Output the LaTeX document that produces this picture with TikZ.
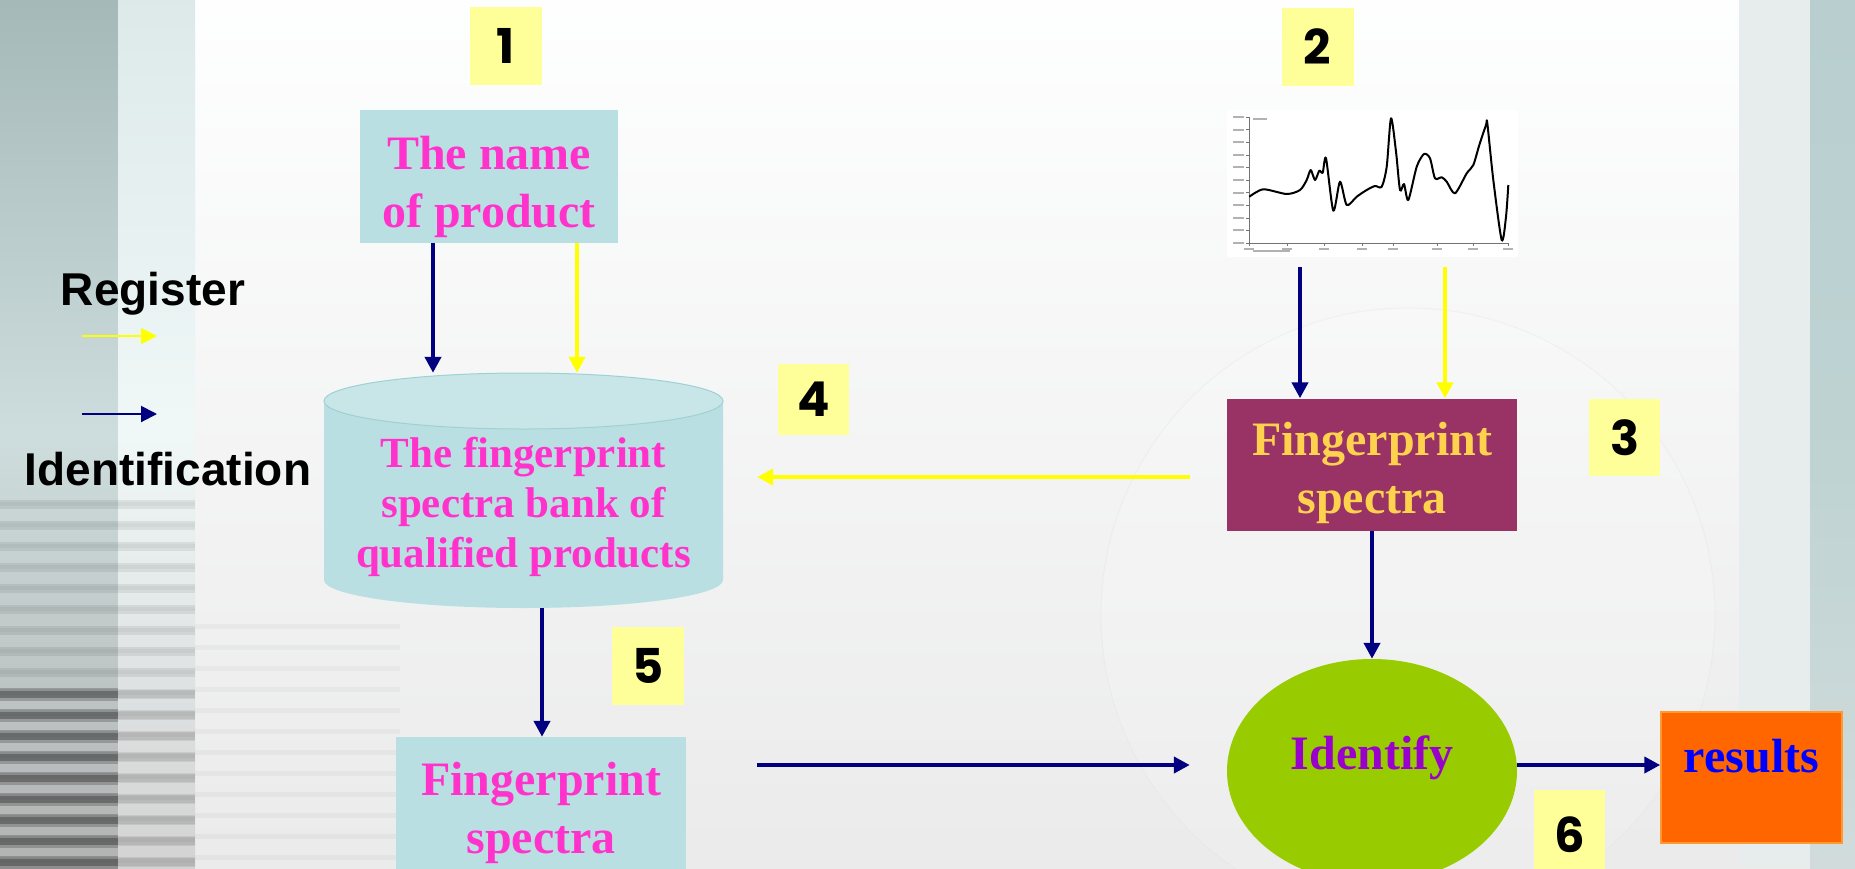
\documentclass[tikz,border=0pt]{standalone}
\usepackage{fontspec}
\setmainfont{Liberation Serif}
\newfontfamily\legfont{Liberation Sans}
\newfontfamily\numfont{Poppins}
\usetikzlibrary{arrows.meta,calc,shapes.geometric}
\definecolor{navyc}{HTML}{000080}
\definecolor{yelc}{HTML}{FFFF00}
\definecolor{numyellow}{HTML}{FFFF99}
\definecolor{boxcyan}{HTML}{BADFE2}
\definecolor{topcyan}{HTML}{C8E6E8}
\definecolor{pinktext}{HTML}{FF33CC}
\definecolor{maroonc}{HTML}{993366}
\definecolor{goldtext}{HTML}{FFD24D}
\definecolor{greenc}{HTML}{99CC00}
\definecolor{purplet}{HTML}{9900CC}
\definecolor{orangec}{HTML}{FF6600}
\definecolor{orangeb}{HTML}{FF9933}
\definecolor{bluet}{HTML}{0000FF}
\begin{document}
\begin{tikzpicture}[x=1pt,y=-1pt,
  navyarr/.style={draw=navyc, line width=4pt, -{Triangle[length=16pt,width=16pt]}},
  yelarr/.style={draw=yelc, line width=4pt, -{Triangle[length=16pt,width=16pt]}},
  legnavy/.style={draw=navyc, line width=2pt, -{Triangle[length=16pt,width=16pt]}},
  legyel/.style={draw=yelc, line width=2pt, -{Triangle[length=16pt,width=16pt]}},
  numbox/.style={fill=numyellow, minimum width=72pt, minimum height=78pt, inner sep=0pt,
     font=\numfont\bfseries\fontsize{48}{48}\selectfont},
  cyanfill/.style={fill=boxcyan, inner sep=0pt},
  serifbig/.style={font=\bfseries\fontsize{48}{58}\selectfont, align=center, inner sep=0pt},
  legtext/.style={font=\legfont\bfseries\fontsize{46}{46}\selectfont, text=black, inner sep=0pt}
]
\useasboundingbox (0,0) rectangle (1855,868);
\clip (0,0) rectangle (1855,868);
% ---------- background ----------
\shade[top color=white!92!teal!6, bottom color=black!8!white] (0,0) rectangle (1855,868);
\fill[white, opacity=0.15] (1408,615) circle[radius=307];
\draw[black!12, opacity=0.3, line width=1pt] (1408,615) circle[radius=307];
% left bands
\shade[top color=teal!28!gray!55!white, bottom color=gray!60!white, middle color=teal!14!white!85!gray]
  (0,0) rectangle (118,868);
\shade[top color=teal!10!white!92!gray, bottom color=gray!35!white, middle color=teal!6!white]
  (118,0) rectangle (195,868);
\foreach \yy in {500,521,...,868} {
  \fill[black, opacity=0.07] (0,\yy) rectangle (195,\yy+9);
  \fill[black, opacity=0.035] (0,\yy+2) rectangle (195,\yy+6);
}
\foreach \yy in {620,641,...,868} {
  \fill[black, opacity=0.03] (195,\yy+4) rectangle (400,\yy+9);
}
\foreach \yy in {690,711,...,868} {
  \fill[black!85, opacity=0.25] (0,\yy-2) rectangle (118,\yy+11);
  \fill[black!85, opacity=0.3] (0,\yy+1) rectangle (118,\yy+8);
  \fill[black!60, opacity=0.15] (118,\yy) rectangle (195,\yy+9);
}
% right bands
\fill[teal!5!white!90!gray] (1739,0) rectangle (1810,868);
\shade[top color=teal!22!white!80!gray, bottom color=teal!10!white!80!gray, middle color=gray!55!teal!35!white]
  (1810,0) rectangle (1855,868);
% ---------- legend ----------
\node[legtext, anchor=base] (reg) at (153,305) {Register};
\coordinate (ly1) at (82,336);
\coordinate (ly2) at (157,336);
\draw[legyel] (ly1) -- (ly2);
\coordinate (ln1) at (82,414);
\coordinate (ln2) at (157,414);
\draw[legnavy] (ln1) -- (ln2);
\node[legtext, anchor=base] (ident) at (168,485) {Identification};
% ---------- number boxes ----------
\node[numbox] (n1) at (505.5,46) {1};
\node[numbox] (n2) at (1317.5,46.5) {2};
\node[numbox, minimum width=71pt, minimum height=77pt] (n3) at (1624.5,437.5) {3};
\node[numbox, minimum width=71pt, minimum height=71pt] (n4) at (813.5,399.5) {4};
\node[numbox] (n5) at (648,666) {5};
\node[numbox, minimum width=71pt, minimum height=90pt] (n6) at (1569.5,835) {6};
% ---------- name box ----------
\node[cyanfill, minimum width=258pt, minimum height=133pt] (name) at (489,176.5) {};
\node[serifbig, text=pinktext] (namet) at (489,187) {The name\\of product};
% ---------- bank cylinder ----------
\node[minimum width=399pt, minimum height=235pt, inner sep=0pt] (bank) at (523.5,490.5) {};
\fill[boxcyan] (324,401) -- (324,580) arc[start angle=180, end angle=0, x radius=199.5, y radius=28]
  -- (723,401) arc[start angle=0, end angle=-180, x radius=199.5, y radius=28] -- cycle;
\fill[topcyan] (523.5,401) ellipse[x radius=199.5, y radius=28];
\draw[boxcyan!85!teal, line width=1pt] (523.5,401) ellipse[x radius=199.5, y radius=28];
\node[text=pinktext, font=\bfseries\fontsize{43}{50}\selectfont, align=center, inner sep=0pt]
  (banktext) at (523.5,507) {The fingerprint\\spectra bank of\\qualified products};
% ---------- spectrum picture ----------
\node[fill=white, minimum width=291pt, minimum height=147pt, inner sep=0pt] (spec) at (1372.5,183.5) {};
\draw[black!55, line width=0.8pt] (1249,117) -- (1249,243) -- (1508,243);
\foreach \k in {0,...,10} {
  \draw[black!55, line width=0.6pt] (1246,117+\k*12.6) -- (1249,117+\k*12.6);
  \fill[black!30] (1233,116+\k*12.6) rectangle (1244,118+\k*12.6);
}
\foreach \xx in {1249,1287,1324,1362,1393,1437,1473,1508} {
  \draw[black!55, line width=0.6pt] (\xx,243) -- (\xx,246);
  \fill[black!30] (\xx-5,248) rectangle (\xx+5,250);
}
\fill[black!30] (1253,250) rectangle (1290,252);
\fill[black!30] (1253,118) rectangle (1267,120);
\draw[black, line width=2pt, line join=round] plot[smooth, tension=0.45] coordinates {
 (1249.3,196.7) (1263.3,189.3) (1286.7,194) (1300,190) (1306.7,180) (1310.7,170) (1315,180)
 (1319.3,170.7) (1322.7,172.7) (1326,158.3) (1333.3,210.7) (1340,181.7) (1346.7,205)
 (1356.7,196.7) (1366.7,190) (1375,186) (1381.7,186.7) (1386.7,166.7) (1391,118.3)
 (1396,151.7) (1400,190) (1404,184) (1408.3,200) (1416.7,166.7) (1424,154) (1430,158.3)
 (1435,178.3) (1441.7,177.3) (1446.7,181.7) (1455,193.3) (1466.7,173.3) (1473.3,165)
 (1479.3,145) (1486,125) (1487.3,123.3) (1493.3,180) (1501.7,240) (1506,216.7) (1508.3,185)};
% ---------- right fingerprint box ----------
\node[fill=maroonc, minimum width=290pt, minimum height=132pt, inner sep=0pt] (fpr) at (1372,464.5) {};
\node[serifbig, text=goldtext] (fprt) at (1372,473) {Fingerprint\\spectra};
% ---------- bottom fingerprint box ----------
\node[cyanfill, minimum width=290pt, minimum height=142pt] (fpb) at (541,808) {};
\node[serifbig, text=pinktext] (fpbt) at (541,813) {Fingerprint\\spectra};
% ---------- identify ellipse ----------
\node[ellipse, fill=greenc, minimum width=290pt, minimum height=224pt, inner sep=0pt] (idf) at (1372,771) {};
\node[serifbig, text=purplet] (idft) at (1372,758) {Identify};
% ---------- results ----------
\node[fill=orangec, draw=orangeb, line width=1.5pt, minimum width=181pt, minimum height=131pt, inner sep=0pt]
  (res) at (1751.5,777.5) {};
\node[serifbig, text=bluet] (rest) at (1751.5,756) {results};
% ---------- connectors ----------
\coordinate (a1) at ($(name.south)+(-56,0)$);
\coordinate (a2) at ($(name.south)+(88,0)$);
\draw[navyarr] (a1) -- (a1 |- bank.north);
\draw[yelarr] (a2) -- (a2 |- bank.north);
\coordinate (s1) at ($(spec.south)+(-72.5,10)$);
\coordinate (s2) at ($(spec.south)+(72.5,10)$);
\draw[navyarr] (s1) -- (s1 |- fpr.north);
\draw[yelarr] (s2) -- (s2 |- fpr.north);
\coordinate (y1) at ($(fpr.west)+(-37,12.5)$);
\coordinate (y2) at ($(bank.east |- y1)+(34,0)$);
\draw[yelarr] (y1) -- (y2);
\draw[navyarr] (fpr.south) -- (idf.north);
\coordinate (b1) at ($(bank.south)+(18.5,0)$);
\draw[navyarr] (b1) -- (b1 |- fpb.north);
\coordinate (h1) at ($(fpb.east |- idf.west)+(71,-6)$);
\coordinate (h2) at ($(idf.west)+(-37,-6)$);
\draw[navyarr] (h1) -- (h2);
\draw[navyarr] ($(idf.east)+(0,-6)$) -- ($(idf.east -| res.west)+(0,-6)$);
\end{tikzpicture}
\end{document}
